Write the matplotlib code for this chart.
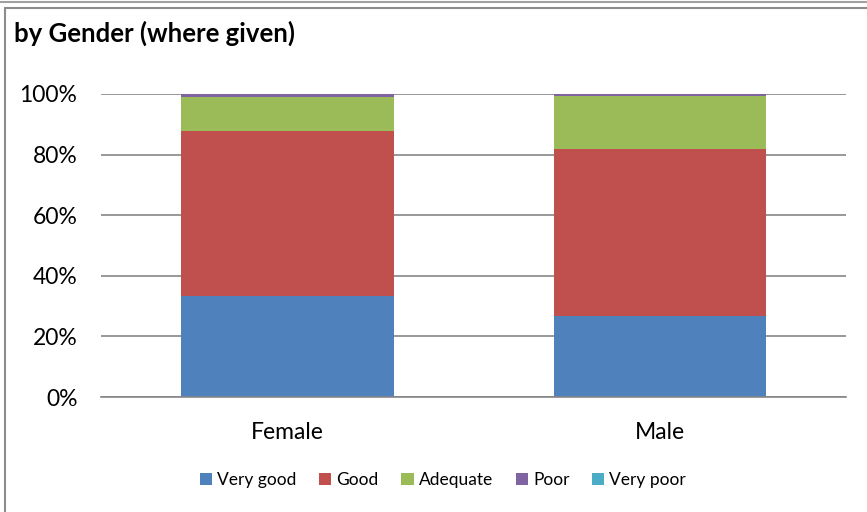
import matplotlib
matplotlib.use("Agg")

import matplotlib.pyplot as plt
from matplotlib.patches import Rectangle
from matplotlib.lines import Line2D
from matplotlib.ticker import PercentFormatter

plt.rcParams["font.family"] = ["Lato", "DejaVu Sans"]

generos = ["Female", "Male"]
categorias = ["Very good", "Good", "Adequate", "Poor", "Very poor"]
valores = {
    "Very good": [33.3, 26.7],
    "Good": [54.5, 55.1],
    "Adequate": [11.3, 17.7],
    "Poor": [0.9, 0.4],
    "Very poor": [0.0, 0.1],
}
colores = ["#4F81BD", "#C0504D", "#9BBB59", "#8064A2", "#4BACC6"]

W, H = 867, 512
fig = plt.figure(figsize=(W / 100, H / 100), dpi=100)

# marco del grafico
fig.add_artist(Line2D([0, 1], [1 - 1.5 / H, 1 - 1.5 / H], color="#a0a0a0", lw=1.5))
fig.add_artist(Rectangle((4.5 / W, -0.1), 1.2, 1 - 7.5 / H + 0.1, transform=fig.transFigure,
                         facecolor="none", edgecolor="#8c8c8c", lw=1.5))

ax = fig.add_axes([101 / W, 1 - 397 / H, (846.5 - 101) / W, (397 - 94) / H])

x = range(len(generos))
base = [0.0] * len(generos)
for cat, color in zip(categorias, colores):
    vals = [v / 100 for v in valores[cat]]
    ax.bar(x, vals, width=0.57, bottom=base, color=color, label=cat, zorder=2)
    base = [b + v for b, v in zip(base, vals)]

ax.set_xlim(-0.5, 1.5)
ax.set_ylim(0, 1)
ax.set_yticks([0, 0.2, 0.4, 0.6, 0.8, 1.0])
ax.yaxis.set_major_formatter(PercentFormatter(1.0, decimals=0))
ax.grid(axis="y", color="#868686", lw=1.2, zorder=0)
ax.set_axisbelow(True)
for s in ["left", "right", "top"]:
    ax.spines[s].set_visible(False)
ax.spines["bottom"].set_color("#868686")
ax.spines["bottom"].set_linewidth(1.2)
ax.tick_params(axis="y", length=0, pad=17, labelsize=16.5)
ax.tick_params(axis="x", length=0, pad=18, labelsize=16.5)
ax.set_xticks(list(x))
ax.set_xticklabels(generos)

fig.text(14 / W, 1 - 33 / H, "by Gender (where given)", fontsize=18.5, fontweight="bold",
         va="center", ha="left")

fig.legend(loc="center", bbox_to_anchor=(443 / W, 1 - 480 / H), ncol=5, frameon=False,
           fontsize=12.5, handlelength=0.7, handleheight=0.7, handletextpad=0.3,
           columnspacing=1.3)

fig.savefig("out.png", dpi=100)
